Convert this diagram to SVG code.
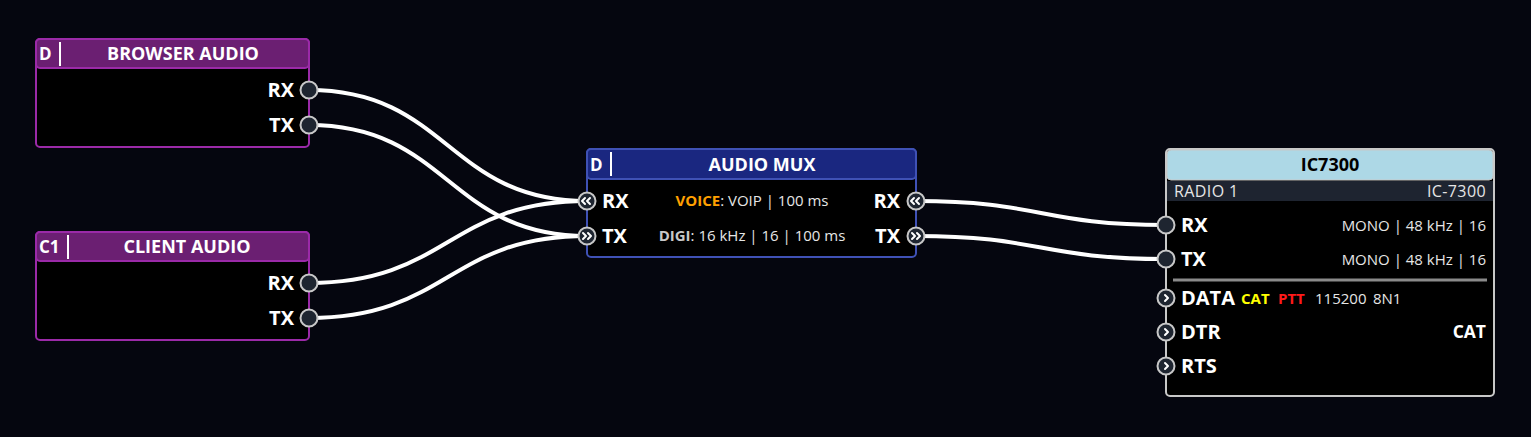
<svg xmlns="http://www.w3.org/2000/svg" width="1531" height="437" viewBox="0 0 1531 437">
<style>
text{font-family:"Open Sans","Noto Sans","Liberation Sans",sans-serif;fill:#fff}
.body{fill:#000}
.purple{stroke:#9b2aa8;stroke-width:2}
.phead{fill:#6b1f72;stroke:#9b2aa8;stroke-width:2}
.blue{stroke:#3f51b5;stroke-width:2}
.bhead{fill:#1a2780;stroke:#3f51b5;stroke-width:2}
.title{font-weight:700;font-size:18px;text-anchor:middle}
.tag{font-weight:700;font-size:17px}
.sep{stroke:#fff;stroke-width:2}
.port{fill:#1e2530;stroke:#c8c8c8;stroke-width:2}
.plab{font-weight:700;font-size:20px}
.small{font-size:15px;fill:#e6e6e6}
.sub{font-size:16px;fill:#e6e6e6;letter-spacing:0.4px}
.dark{fill:#000}
.yel{font-size:15px;font-weight:700;fill:#ffff00}
.red{font-size:15px;font-weight:700;fill:#ff1a1a}
.cat{font-size:17.5px;font-weight:700;text-anchor:end}
.wire{fill:none;stroke:#fff;stroke-width:4}
.chev{fill:none;stroke:#fff;stroke-width:2;stroke-linecap:round;stroke-linejoin:round}
</style>
<rect width="1531" height="437" fill="#05060f"/>
<g id="connectors">
<path class="wire" d="M309,90 C448,90 448,201 587,201"/>
<path class="wire" d="M309,125 C448,125 448,236 587,236"/>
<path class="wire" d="M309,283 C448,283 448,201 587,201"/>
<path class="wire" d="M309,318 C448,318 448,236 587,236"/>
<path class="wire" d="M916,201 C1041,201 1041,225 1166,225"/>
<path class="wire" d="M916,236 C1041,236 1041,259 1166,259"/>
</g>
<g id="browser-audio">
<rect class="body purple" x="36" y="39" width="273" height="108" rx="4"/>
<rect class="phead" x="36" y="39" width="273" height="29" rx="4"/>
<text class="tag" x="39" y="60">D</text>
<line class="sep" x1="60" y1="42" x2="60" y2="66"/>
<text class="title" x="183" y="60">BROWSER AUDIO</text>
<text class="plab" x="294" y="97" text-anchor="end">RX</text>
<text class="plab" x="294" y="132" text-anchor="end">TX</text>
<circle class="port" cx="309" cy="90" r="8.5"/>
<circle class="port" cx="309" cy="125" r="8.5"/>
</g>
<g id="client-audio">
<rect class="body purple" x="36" y="232" width="273" height="108" rx="4"/>
<rect class="phead" x="36" y="232" width="273" height="29" rx="4"/>
<text class="tag" x="39" y="253">C1</text>
<line class="sep" x1="68" y1="235" x2="68" y2="259"/>
<text class="title" x="187" y="253">CLIENT AUDIO</text>
<text class="plab" x="294" y="290" text-anchor="end">RX</text>
<text class="plab" x="294" y="325" text-anchor="end">TX</text>
<circle class="port" cx="309" cy="283" r="8.5"/>
<circle class="port" cx="309" cy="318" r="8.5"/>
</g>
<g id="audio-mux">
<rect class="body blue" x="587" y="149" width="329" height="108" rx="4"/>
<rect class="bhead" x="587" y="149" width="329" height="30" rx="4"/>
<text class="tag" x="590" y="171">D</text>
<line class="sep" x1="611" y1="152" x2="611" y2="176"/>
<text class="title" x="762" y="171">AUDIO MUX</text>
<text class="plab" x="602" y="208">RX</text>
<text class="plab" x="602" y="243">TX</text>
<text class="plab" x="900" y="208" text-anchor="end">RX</text>
<text class="plab" x="900" y="243" text-anchor="end">TX</text>
<text class="small" x="752" y="206" text-anchor="middle"><tspan font-weight="700" fill="#ffa000">VOICE</tspan>: VOIP | 100 ms</text>
<text class="small" x="752" y="241" text-anchor="middle"><tspan font-weight="700" fill="#c8c8c8">DIGI</tspan>: 16 kHz | 16 | 100 ms</text>
<circle class="port" cx="587" cy="201" r="8.5"/>
<circle class="port" cx="587" cy="236" r="8.5"/>
<circle class="port" cx="916" cy="201" r="8.5"/>
<circle class="port" cx="916" cy="236" r="8.5"/>
<path class="chev" d="M585,198 l-3,3 l3,3 M590,198 l-3,3 l3,3"/>
<path class="chev" d="M583,233 l3,3 l-3,3 M588,233 l3,3 l-3,3"/>
<path class="chev" d="M914,198 l-3,3 l3,3 M919,198 l-3,3 l3,3"/>
<path class="chev" d="M912,233 l3,3 l-3,3 M917,233 l3,3 l-3,3"/>
</g>
<g id="ic7300">
<rect class="body" x="1166" y="149" width="328" height="247" rx="4" stroke="#c8c8c8" stroke-width="2"/>
<rect x="1167" y="150" width="326" height="30" rx="4" fill="#add8e6" stroke="#c8c8c8" stroke-width="1"/>
<rect x="1167" y="181" width="326" height="20" fill="#1e2430"/>
<text class="title dark" x="1330" y="171">IC7300</text>
<text class="sub" x="1174" y="197">RADIO 1</text>
<text class="sub" x="1486" y="197" text-anchor="end">IC-7300</text>
<text class="plab" x="1181" y="232">RX</text>
<text class="plab" x="1181" y="266">TX</text>
<text class="small" x="1486" y="231" text-anchor="end">MONO  | 48 kHz | 16</text>
<text class="small" x="1486" y="265" text-anchor="end">MONO  | 48 kHz | 16</text>
<line x1="1173" y1="280" x2="1487" y2="280" stroke="#8a8a8a" stroke-width="3"/>
<text class="plab" x="1181" y="305">DATA</text>
<text class="yel" x="1241" y="304">CAT</text>
<text class="red" x="1278" y="304">PTT</text>
<text class="small" x="1315" y="304">115200</text>
<text class="small" x="1373" y="304">8N1</text>
<text class="plab" x="1181" y="339">DTR</text>
<text class="cat" x="1486" y="338">CAT</text>
<text class="plab" x="1181" y="373">RTS</text>
<circle class="port" cx="1166" cy="225" r="8.5"/>
<circle class="port" cx="1166" cy="259" r="8.5"/>
<circle class="port" cx="1166" cy="298" r="8.5"/>
<circle class="port" cx="1166" cy="332" r="8.5"/>
<circle class="port" cx="1166" cy="366" r="8.5"/>
<path class="chev" d="M1165,295 l3,3 l-3,3"/>
<path class="chev" d="M1165,329 l3,3 l-3,3"/>
<path class="chev" d="M1165,363 l3,3 l-3,3"/>
</g>
</svg>
